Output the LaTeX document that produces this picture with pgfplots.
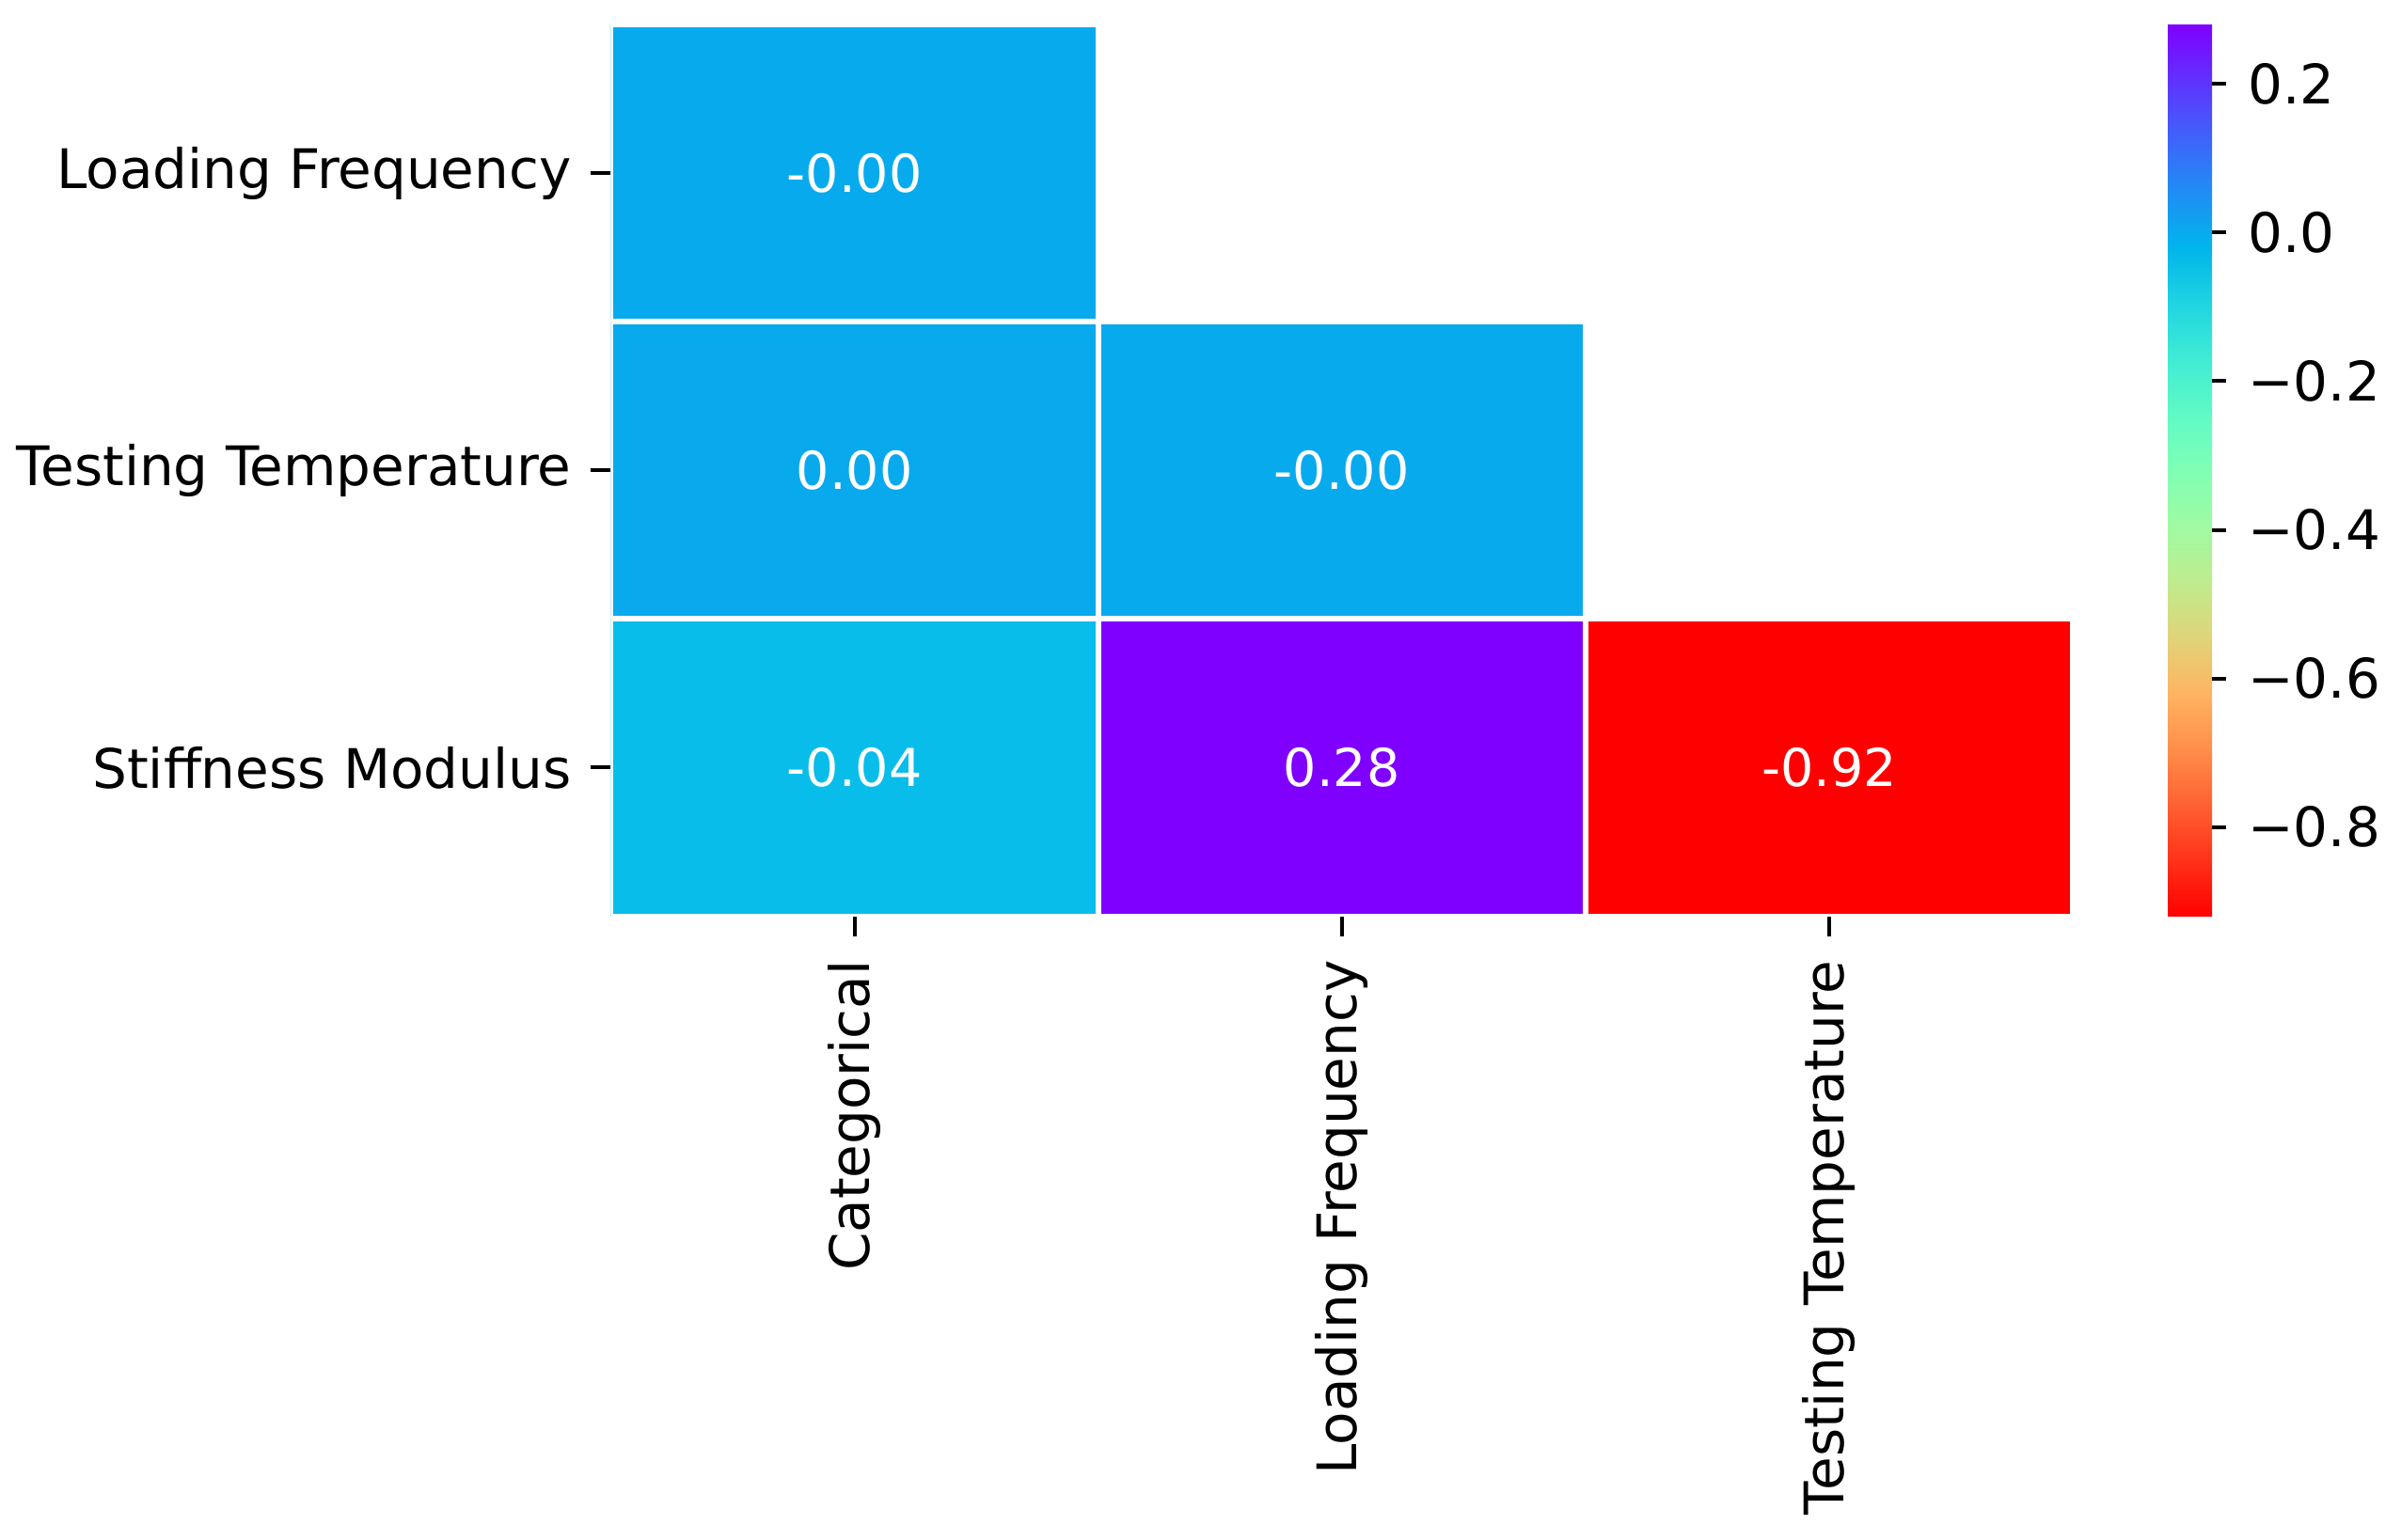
\documentclass[border=0pt]{standalone}
\usepackage{pgfplots}
\pgfplotsset{compat=1.18}
\usepackage{fontspec}
\setmainfont{DejaVu Sans}

% reversed "rainbow" colour map: red (low) -> purple (high)
\pgfplotsset{
  colormap={rainbowr}{
    rgb=(1,0,0) rgb=(1,0.195,0.098) rgb=(1,0.383,0.195) rgb=(1,0.556,0.290)
    rgb=(1,0.707,0.383) rgb=(0.875,0.831,0.471) rgb=(0.75,0.924,0.556)
    rgb=(0.625,0.981,0.634) rgb=(0.5,1,0.707) rgb=(0.375,0.981,0.773)
    rgb=(0.25,0.924,0.831) rgb=(0.125,0.831,0.882) rgb=(0,0.707,0.924)
    rgb=(0.125,0.556,0.957) rgb=(0.25,0.383,0.981) rgb=(0.375,0.195,0.995)
    rgb=(0.5,0,1)
  }
}

\begin{document}
\begin{tikzpicture}
\path[use as bounding box] (0,0) rectangle (510.6pt,-327.4pt);
\begin{axis}[
  at={(129.9pt,-5.2pt)}, anchor=north west,
  scale only axis,
  width=310.9pt, height=189.7pt,
  xmin=-0.5, xmax=2.5, ymin=-0.5, ymax=2.5,
  y dir=reverse,
  axis line style={draw=none},
  xtick={0,1,2}, ytick={0,1,2},
  xticklabels={Categorical, Loading Frequency, Testing Temperature},
  yticklabels={Loading Frequency, Testing Temperature, Stiffness Modulus},
  xtick pos=bottom, ytick pos=left,
  tick align=outside,
  major tick length=4.2pt,
  tick style={black, line width=0.8pt},
  tick label style={font=\fontsize{11.6}{13}\selectfont, inner sep=0pt},
  xticklabel style={rotate=90, anchor=east, xshift=-5pt},
  yticklabel style={anchor=east, xshift=-4pt},
  colormap name=rainbowr,
  point meta min=-0.92, point meta max=0.28,
  colorbar right,
  colorbar style={
    at={(parent axis.north east)}, anchor=north west,
    xshift=11.7pt,
    scale only axis,
    width=9.4pt, height=189.7pt,
    axis line style={draw=none},
    ytick={-0.8,-0.6,-0.4,-0.2,0,0.2},
    yticklabels={−0.8,−0.6,−0.4,−0.2,0.0,0.2},
    ytick pos=right,
    tick align=outside,
    major tick length=3pt,
    tick style={black, line width=0.8pt},
    yticklabel style={font=\fontsize{11.6}{13}\selectfont, anchor=west,
      inner sep=0pt, xshift=4.4pt},
  },
]
% correlation cells: four corners per cell, value as meta
\addplot[patch, patch type=rectangle, shader=faceted, faceted color=white,
  line width=1.2pt, point meta=explicit]
  table[meta=c] {
x y c
-0.5 -0.5 -0.001
0.5 -0.5 -0.001
0.5 0.5 -0.001
-0.5 0.5 -0.001
-0.5 0.5 0.001
0.5 0.5 0.001
0.5 1.5 0.001
-0.5 1.5 0.001
0.5 0.5 -0.001
1.5 0.5 -0.001
1.5 1.5 -0.001
0.5 1.5 -0.001
-0.5 1.5 -0.04
0.5 1.5 -0.04
0.5 2.5 -0.04
-0.5 2.5 -0.04
0.5 1.5 0.28
1.5 1.5 0.28
1.5 2.5 0.28
0.5 2.5 0.28
1.5 1.5 -0.92
2.5 1.5 -0.92
2.5 2.5 -0.92
1.5 2.5 -0.92
};
% annotations
\addplot[draw=none, mark=none, nodes near coords, point meta=explicit symbolic,
  every node near coord/.append style={anchor=center, text=white,
    font=\fontsize{11.1}{12}\selectfont}]
  table[meta=t] {
x y t
0 0 -0.00
0 1 0.00
1 1 -0.00
0 2 -0.04
1 2 0.28
2 2 -0.92
};
\end{axis}
\end{tikzpicture}
\end{document}
